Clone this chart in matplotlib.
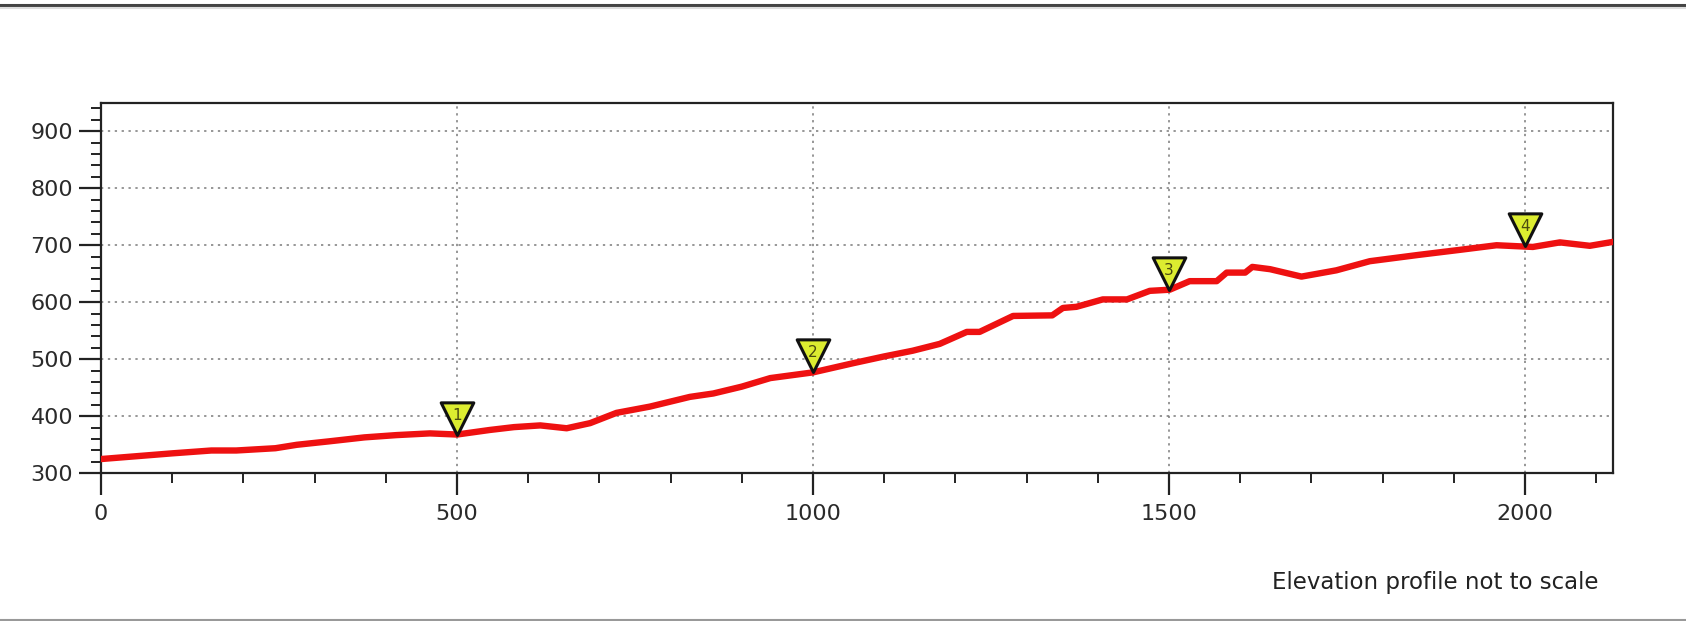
import matplotlib
matplotlib.use("Agg")
import matplotlib.pyplot as plt
from matplotlib.lines import Line2D
from matplotlib.path import Path
from matplotlib.ticker import MultipleLocator

# Elevation profile data (distance, elevation)
distance = [0, 50, 100, 155, 190, 245, 275, 320, 370, 415, 462, 500, 546, 580,
            617, 654, 687, 724, 771, 827, 860, 900, 940, 1000, 1056, 1100, 1140,
            1178, 1216, 1234, 1281, 1336, 1351, 1370, 1407, 1441, 1473, 1501,
            1529, 1567, 1581, 1607, 1617, 1642, 1686, 1735, 1782, 1850, 1909,
            1960, 2011, 2049, 2091, 2124]
elevation = [325, 330, 335, 340, 340, 344, 350, 356, 363, 367, 370, 368, 376, 381,
             384, 379, 388, 406, 417, 434, 440, 452, 467, 477, 493, 505, 515,
             527, 548, 548, 576, 577, 590, 592, 605, 605, 620, 622,
             637, 637, 652, 652, 662, 658, 645, 656, 672, 683, 692,
             700, 697, 705, 699, 706]

marker_x = [500, 1000, 1500, 2000]
marker_y = [368, 477, 622, 698]
marker_labels = ["1", "2", "3", "4"]

W, H, DPI = 1686, 621, 100
fig = plt.figure(figsize=(W / DPI, H / DPI), dpi=DPI)
fig.patch.set_facecolor("white")

ax = fig.add_axes([101 / W, 1 - 473.3 / H, (1613.3 - 101) / W, (473.3 - 102.7) / H])
ax.set_xlim(0, 2124)
ax.set_ylim(300, 950)

ax.plot(distance, elevation, color="#ee1111", linewidth=4.6, solid_capstyle="round",
        solid_joinstyle="round", zorder=3)

tri = Path([(-0.5, 1.0), (0.5, 1.0), (0.0, 0.0), (-0.5, 1.0)],
           [Path.MOVETO, Path.LINETO, Path.LINETO, Path.CLOSEPOLY])
ax.plot(marker_x, marker_y, linestyle="none", marker=tri, markersize=47,
        markerfacecolor="#dcec30", markeredgecolor="#111111", markeredgewidth=2.2,
        zorder=5, clip_on=False)
for mx, my, lab in zip(marker_x, marker_y, marker_labels):
    ax.annotate(lab, (mx, my), xytext=(0, 14), textcoords="offset points",
                ha="center", va="center", fontsize=11, color="#4a4a10", zorder=6)

ax.xaxis.set_major_locator(MultipleLocator(500))
ax.xaxis.set_minor_locator(MultipleLocator(100))
ax.yaxis.set_minor_locator(MultipleLocator(20))
ax.set_yticks([300, 400, 500, 600, 700, 800, 900])

ax.tick_params(axis="both", which="major", direction="out", length=16, width=1.6,
               color="#222222", labelsize=16, labelcolor="#2a2a2a")
ax.tick_params(axis="y", which="major", pad=4)
ax.tick_params(axis="x", which="major", pad=6)
ax.tick_params(axis="both", which="minor", direction="out", length=7, width=1.4,
               color="#222222")

ax.grid(True, which="major", color="#7a7a7a", linestyle=(0, (1.5, 3)), linewidth=1.1,
        zorder=1)
ax.set_axisbelow(True)
for s in ax.spines.values():
    s.set_linewidth(1.6)
    s.set_color("#222222")

# page borders
fig.add_artist(Line2D([0, 1], [1 - 5 / H, 1 - 5 / H], color="#444444", linewidth=2.2))
fig.add_artist(Line2D([0, 1], [1 - 8 / H, 1 - 8 / H], color="#dddddd", linewidth=1.5))
fig.add_artist(Line2D([0, 1], [0.8 / H, 0.8 / H], color="#999999", linewidth=1.5))

fig.text(1598 / W, 1 - 583 / H, "Elevation profile not to scale", ha="right",
         va="center", fontsize=16.5, color="#222222")

fig.savefig("out.png", dpi=DPI, facecolor="white")
